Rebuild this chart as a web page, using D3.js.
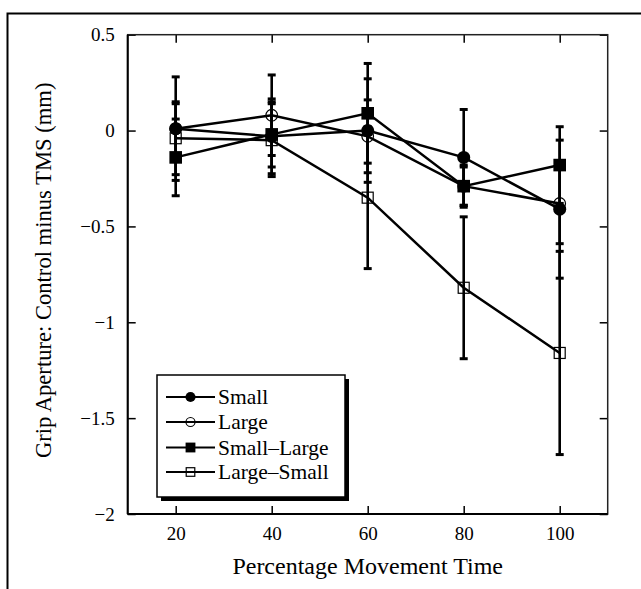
<!DOCTYPE html>
<html><head><meta charset="utf-8">
<script src="https://cdn.jsdelivr.net/npm/d3@7"></script>
<style>body{margin:0;background:#fff}svg{display:block}</style>
</head><body>
<svg id="c" width="641" height="589" font-family="Liberation Serif, Times New Roman, serif"></svg>
<script>
const xVals = [20, 40, 60, 80, 100];
const seriesNames = ["Small", "Large", "Small\u2013Large", "Large\u2013Small"];
const small = [0.01, -0.03, 0.0, -0.14, -0.41];
const smallErr = [0.13, 0.195, 0.27, 0.25, 0.36];
const large = [0.01, 0.08, -0.03, -0.29, -0.38];
const largeErr = [0.27, 0.21, 0.19, 0.10, 0.21];
const smallLarge = [-0.14, -0.02, 0.09, -0.29, -0.18];
const smallLargeErr = [0.20, 0.17, 0.26, 0.11, 0.20];
const largeSmall = [-0.04, -0.05, -0.35, -0.82, -1.16];
const largeSmallErr = [0.19, 0.19, 0.37, 0.37, 0.53];
const xTicks = [20, 40, 60, 80, 100];
const yTicks = [-2, -1.5, -1, -0.5, 0, 0.5];
const xTitle = "Percentage Movement Time";
const yTitle = "Grip Aperture: Control minus TMS (mm)";

const FONT = "Liberation Serif, Times New Roman, serif";
const series = [
  {name: seriesNames[0], vals: small, err: smallErr, shape: "circle", filled: true},
  {name: seriesNames[1], vals: large, err: largeErr, shape: "circle", filled: false},
  {name: seriesNames[2], vals: smallLarge, err: smallLargeErr, shape: "square", filled: true},
  {name: seriesNames[3], vals: largeSmall, err: largeSmallErr, shape: "square", filled: false}
];

const svg = d3.select("#c");
const L = 127.7, R = 607.7, T = 34.7, B = 514;
const x = d3.scaleLinear().domain([10, 110]).range([L, R]);
const y = d3.scaleLinear().domain([-2, 0.5]).range([B, T]);

// outer frame
svg.append("path").attr("d", "M641,13.5 H7.5 V589").attr("fill", "none").attr("stroke", "#000").attr("stroke-width", 2);

// axes
const fmt = d => d === 0 ? "0" : (d < 0 ? "\u2212" + d3.format("")(-d) : d3.format("")(d));
const gL = svg.append("g").attr("transform", `translate(${L},0)`)
  .call(d3.axisLeft(y).tickValues(yTicks).tickSize(-8).tickPadding(13).tickFormat(fmt));
const gR = svg.append("g").attr("transform", `translate(${R},0)`)
  .call(d3.axisRight(y).tickValues(yTicks).tickSize(-8).tickFormat(""));
const gB = svg.append("g").attr("transform", `translate(0,${B})`)
  .call(d3.axisBottom(x).tickValues(xTicks).tickSize(-8).tickPadding(13).tickFormat(d3.format("d")));
const gT = svg.append("g").attr("transform", `translate(0,${T})`)
  .call(d3.axisTop(x).tickValues(xTicks).tickSize(-8).tickFormat(""));
[gL, gR, gB, gT].forEach(g => {
  g.attr("font-family", FONT).attr("font-size", 19);
  g.selectAll(".domain").remove();
  g.selectAll(".tick line").attr("stroke", "#000").attr("stroke-width", 1.5);
  g.selectAll("text").attr("font-family", FONT).attr("font-size", 19).attr("fill", "#000");
});
svg.append("rect").attr("x", L).attr("y", T).attr("width", R - L).attr("height", B - T)
  .attr("fill", "none").attr("stroke", "#222").attr("stroke-width", 1.5);
svg.append("line").attr("x1", L).attr("x2", L).attr("y1", T).attr("y2", B).attr("stroke", "#000").attr("stroke-width", 2);
svg.append("line").attr("x1", L).attr("x2", R).attr("y1", B).attr("y2", B).attr("stroke", "#000").attr("stroke-width", 2);

// titles
svg.append("text").attr("x", (L + R) / 2).attr("y", 574).attr("text-anchor", "middle")
  .attr("font-family", FONT).attr("font-size", 24).text(xTitle);
svg.append("text").attr("transform", `translate(51,${(T + B) / 2 - 4}) rotate(-90)`).attr("text-anchor", "middle")
  .attr("font-family", FONT).attr("font-size", 22.6).text(yTitle);

const plot = svg.append("g");
// error bars
series.forEach(s => {
  const g = plot.append("g");
  s.vals.forEach((v, i) => {
    const cx = x(xVals[i]);
    const y1 = y(v + s.err[i]), y2 = y(v - s.err[i]);
    g.append("line").attr("x1", cx).attr("x2", cx).attr("y1", y1).attr("y2", y2).attr("stroke", "#000").attr("stroke-width", 2.6);
    [y1, y2].forEach(yy => g.append("line").attr("x1", cx - 4).attr("x2", cx + 4).attr("y1", yy).attr("y2", yy).attr("stroke", "#000").attr("stroke-width", 3));
  });
});
// lines
const lineGen = d3.line().x((d, i) => x(xVals[i])).y(d => y(d));
series.forEach(s => {
  plot.append("path").attr("d", lineGen(s.vals)).attr("fill", "none").attr("stroke", "#000").attr("stroke-width", 2.5);
});
function marker(g, s, cx, cy, scale) {
  if (s.shape === "circle") {
    g.append("circle").attr("cx", cx).attr("cy", cy).attr("r", (s.filled ? 6.5 : 5.8) * scale)
      .attr("fill", s.filled ? "#000" : "none").attr("stroke", "#000").attr("stroke-width", s.filled ? 0 : 1.2);
  } else {
    const h = (s.filled ? 6.3 : 5.5) * scale;
    g.append("rect").attr("x", cx - h).attr("y", cy - h).attr("width", 2 * h).attr("height", 2 * h)
      .attr("fill", s.filled ? "#000" : "none").attr("stroke", "#000").attr("stroke-width", s.filled ? 0 : 1.2);
  }
}
series.forEach(s => {
  s.vals.forEach((v, i) => marker(plot, s, x(xVals[i]), y(v), 1));
});

// legend
const lg = svg.append("g");
const lx = 157, ly = 375, lw = 188, lh = 122;
lg.append("rect").attr("x", lx + 4).attr("y", ly + 4).attr("width", lw).attr("height", lh).attr("fill", "#000");
lg.append("rect").attr("x", lx).attr("y", ly).attr("width", lw).attr("height", lh).attr("fill", "#fff").attr("stroke", "#000").attr("stroke-width", 1.5);
const rows = [397, 422, 447.5, 472];
series.forEach((s, i) => {
  const yy = rows[i];
  lg.append("line").attr("x1", 166).attr("x2", 215).attr("y1", yy).attr("y2", yy).attr("stroke", "#000").attr("stroke-width", 2);
  marker(lg, s, 190.5, yy, 0.78);
  lg.append("text").attr("x", 218).attr("y", yy + 7).attr("font-family", FONT).attr("font-size", 21.5).text(s.name);
});
</script>
</body></html>
